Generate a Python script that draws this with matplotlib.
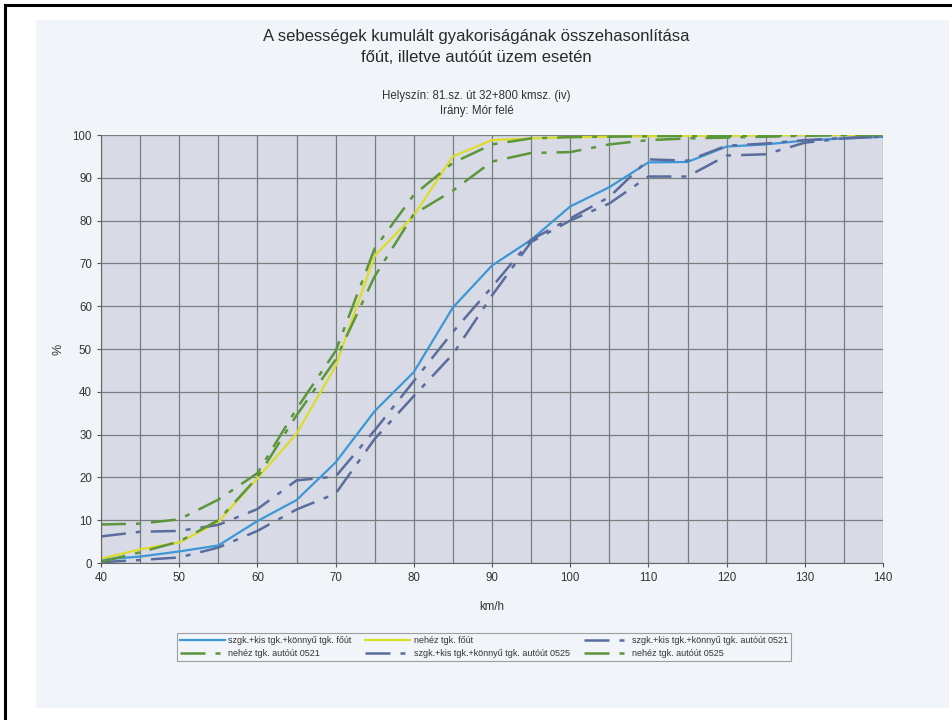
import matplotlib
matplotlib.use("Agg")
import matplotlib.pyplot as plt
from matplotlib.patches import Rectangle
from matplotlib.lines import Line2D

plt.rcParams["font.family"] = ["Liberation Sans", "DejaVu Sans"]

speeds = [40, 45, 50, 55, 60, 65, 70, 75, 80, 85, 90, 95, 100, 105, 110, 115, 120, 125, 130, 135, 140]

szgk_fout = [0.8, 1.5, 2.7, 4.1, 9.8, 14.7, 23.5, 35.5, 44.6, 59.7, 69.5, 75.5, 83.3, 87.8,
             93.6, 93.7, 97.3, 97.8, 98.7, 99.2, 99.6]
nehez_fout = [1.0, 3.2, 4.8, 9.6, 19.8, 30.2, 46.0, 71.8, 81.2, 95.0, 98.8, 99.2, 99.5, 99.6,
              99.7, 99.8, 99.8, 99.9, 100, 100, 100]
szgk_0521 = [6.2, 7.3, 7.5, 8.9, 12.6, 19.3, 20.2, 31.0, 42.5, 54.0, 64.5, 75.5, 80.5, 85.5,
             94.3, 94.0, 97.5, 98.0, 98.8, 99.3, 99.6]
nehez_0521 = [9.0, 9.2, 10.2, 14.8, 21.0, 36.0, 49.5, 73.5, 86.0, 93.5, 97.8, 99.2, 99.5, 99.6,
              99.7, 99.8, 99.8, 99.9, 100, 100, 100]
szgk_0525 = [0.2, 0.7, 1.3, 3.6, 7.5, 12.5, 16.2, 29.0, 39.0, 48.8, 62.5, 75.0, 80.0, 84.0,
             90.3, 90.3, 95.2, 95.5, 98.2, 99.2, 99.6]
nehez_0525 = [0.3, 2.5, 5.0, 10.0, 20.0, 34.5, 47.5, 67.0, 81.5, 87.0, 93.8, 95.8, 96.0, 97.8,
              98.8, 99.2, 99.4, 99.6, 99.8, 100, 100]

labels = [
    "szgk.+kis tgk.+könnyű tgk. főút",
    "nehéz tgk. főút",
    "szgk.+kis tgk.+könnyű tgk. autóút 0521",
    "nehéz tgk. autóút 0521",
    "szgk.+kis tgk.+könnyű tgk. autóút 0525",
    "nehéz tgk. autóút 0525",
]

BLUE = "#3b97d6"
YELLOW = "#dcdc2a"
GREEN = "#5b963a"
SLATE = "#5a6c9e"
DASH = (0, (10, 4, 2, 4))

fig = plt.figure(figsize=(9.53, 7.2), dpi=100)
fig.patch.set_facecolor("white")

# scanned page + black frame
fig.add_artist(Rectangle((36 / 953, 1 - 708 / 720), (949 - 36) / 953, (708 - 20) / 720,
                         transform=fig.transFigure, facecolor="#f1f5fa", edgecolor="none", zorder=-5))
fig.add_artist(Line2D([5 / 953, 5 / 953], [0, 1 - 5 / 720], transform=fig.transFigure,
                      color="black", lw=2.2))
fig.add_artist(Line2D([5 / 953, 1], [1 - 5 / 720, 1 - 5 / 720], transform=fig.transFigure,
                      color="black", lw=2.2))

ax = fig.add_axes([101 / 953, 1 - 563 / 720, (883 - 101) / 953, (563 - 135) / 720])
ax.set_facecolor("#d8dbe6")

ax.plot(speeds, szgk_fout, color=BLUE, lw=1.6, label=labels[0])
ax.plot(speeds, nehez_fout, color=YELLOW, lw=1.6, label=labels[1])
ax.plot(speeds, szgk_0521, color=SLATE, lw=1.8, linestyle=DASH, label=labels[2])
ax.plot(speeds, nehez_0521, color=GREEN, lw=1.8, linestyle=DASH, label=labels[3])
ax.plot(speeds, szgk_0525, color=SLATE, lw=1.8, linestyle=DASH, label=labels[4])
ax.plot(speeds, nehez_0525, color=GREEN, lw=1.8, linestyle=DASH, label=labels[5])

ax.set_xlim(40, 140)
ax.set_ylim(0, 100)
ax.set_xticks(range(40, 141, 10))
ax.set_xticks(range(45, 141, 10), minor=True)
ax.set_yticks(range(0, 101, 10))
ax.grid(True, which="both", color="#767e7e", lw=0.9)
ax.set_axisbelow(True)
ax.tick_params(axis="both", labelsize=8.3, color="#555555", length=3, colors="#333333")
ax.tick_params(axis="x", which="minor", length=0)
for side in ["top", "right"]:
    ax.spines[side].set_visible(False)
for side in ["left", "bottom"]:
    ax.spines[side].set_color("#666666")

ax.set_xlabel("km/h", fontsize=8.3, color="#333333", labelpad=12)
ax.set_ylabel("%", fontsize=9, color="#333333", labelpad=6)

fig.text(0.5, 1 - 37 / 720, "A sebességek kumulált gyakoriságának összehasonlítása",
         ha="center", va="center", fontsize=12, color="#2a2a2a")
fig.text(0.5, 1 - 58 / 720, "főút, illetve autóút üzem esetén",
         ha="center", va="center", fontsize=12, color="#2a2a2a")
fig.text(0.5, 1 - 96 / 720, "Helyszín: 81.sz. út 32+800 kmsz. (iv)",
         ha="center", va="center", fontsize=8.3, color="#333333")
fig.text(0.5, 1 - 111 / 720, "Irány: Mór felé",
         ha="center", va="center", fontsize=8.3, color="#333333")

handles, labs = ax.get_legend_handles_labels()
order = [0, 3, 1, 4, 2, 5]
leg = fig.legend([handles[i] for i in order], [labs[i] for i in order],
                 loc="center", bbox_to_anchor=(484 / 953, 1 - 647 / 720), ncol=3,
                 fontsize=6.5, frameon=True, fancybox=False, handlelength=5,
                 columnspacing=1.5, labelspacing=0.4, borderpad=0.3, handletextpad=0.4)
leg.get_frame().set_edgecolor("#888888")
leg.get_frame().set_linewidth(0.8)
leg.get_frame().set_facecolor("#f1f5fa")
for t in leg.get_texts():
    t.set_color("#333333")

fig.savefig("out.png", dpi=100)
